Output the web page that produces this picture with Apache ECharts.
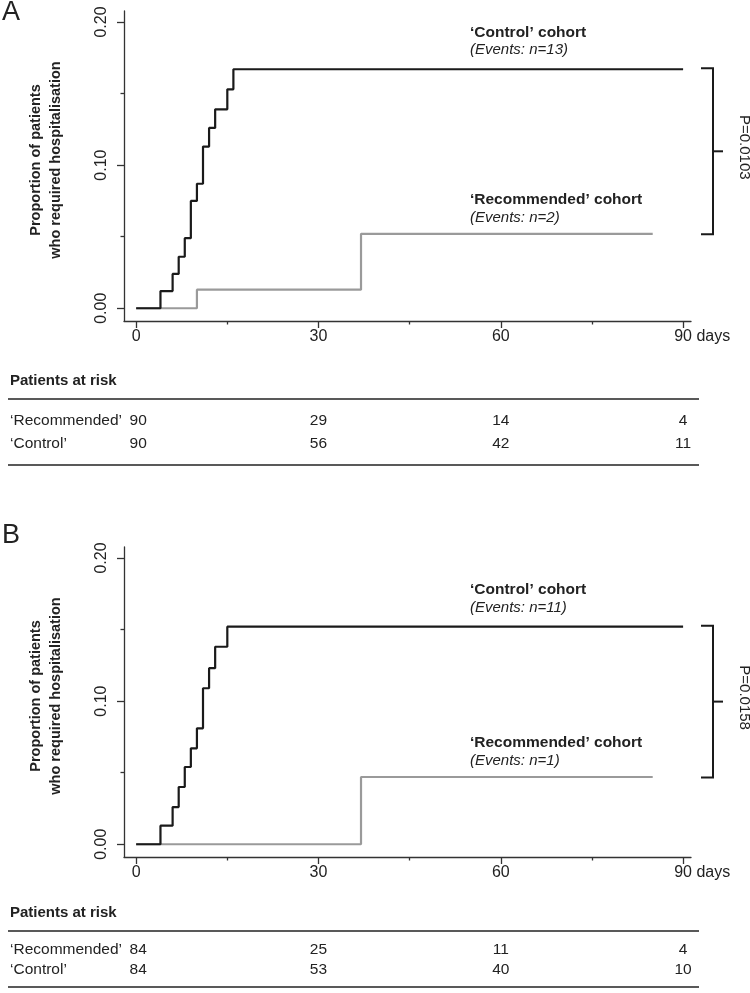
<!DOCTYPE html>
<html>
<head>
<meta charset="utf-8">
<script src="https://cdn.jsdelivr.net/npm/echarts@6/dist/echarts.min.js"></script>
<style>
html,body{margin:0;padding:0;background:#fff;}
#chart{width:750px;height:993px;}
</style>
</head>
<body>
<div id="chart"></div>
<script>
// ---- data ----
const ctrlA_days = [0, 4, 6, 7, 8, 9, 10, 11, 12, 13, 15, 16, 90];
const ctrlA_vals = [0, 0.012, 0.024, 0.036, 0.049, 0.075, 0.087, 0.113, 0.126, 0.139, 0.153, 0.167, 0.167];
const recA_days = [0, 10, 37, 85];
const recA_vals = [0, 0.013, 0.052, 0.052];
const ctrlB_days = [0, 4, 6, 7, 8, 9, 10, 11, 12, 13, 15, 90];
const ctrlB_vals = [0, 0.013, 0.026, 0.040, 0.054, 0.067, 0.081, 0.109, 0.123, 0.138, 0.152, 0.152];
const recB_days = [0, 37, 85];
const recB_vals = [0, 0.047, 0.047];

const riskTimes = [0, 30, 60, 90];
const riskA_rec = [90, 29, 14, 4];
const riskA_ctrl = [90, 56, 42, 11];
const riskB_rec = [84, 25, 11, 4];
const riskB_ctrl = [84, 53, 40, 10];

const xMajorTicks = [0, 30, 60, 90];
const xMinorTicks = [15, 45, 75];
const yMajorTicks = [0, 0.1, 0.2];
const yMinorTicks = [0.05, 0.15];

const panelLabels = ['A', 'B'];
const ctrlEvents = ['(Events: n=13)', '(Events: n=11)'];
const recEvents = ['(Events: n=2)', '(Events: n=1)'];
const pValues = ['P=0.0103', 'P=0.0158'];
const ctrlName = '\u2018Control\u2019 cohort';
const recName = '\u2018Recommended\u2019 cohort';
const rowNames = ['\u2018Recommended\u2019', '\u2018Control\u2019'];
const yTitle = 'Proportion of patients\nwho required hospitalisation';

// ---- layout ----
const FONT = "'Liberation Sans', Arial, Helvetica, sans-serif";
const X_MIN = -2, X_MAX = 91.3, Y_MIN = -0.0089, Y_MAX = 0.2077;
const grids = [
  {left: 124, top: 11, width: 567, height: 310},
  {left: 124, top: 547, width: 567, height: 310}
];
const AXC = '#333';

function zip(a, b) { return a.map((v, i) => [v, b[i]]); }

const xAxes = [], yAxes = [];
grids.forEach((g, gi) => {
  xAxes.push({
    type: 'value', gridIndex: gi, min: X_MIN, max: X_MAX, position: 'bottom',
    axisLine: {show: true, onZero: false, lineStyle: {color: AXC, width: 1.3}},
    axisTick: {show: true, customValues: xMajorTicks, length: 7, lineStyle: {color: AXC, width: 1.3}},
    axisLabel: {
      show: true, customValues: xMajorTicks, margin: 8, color: '#222', fontSize: 16, fontFamily: FONT,
      formatter: v => v === 90 ? '{h|days }90 days' : String(v),
      rich: {h: {color: 'rgba(0,0,0,0)', fontSize: 16, fontFamily: FONT}}
    },
    splitLine: {show: false}
  });
  xAxes.push({
    type: 'value', gridIndex: gi, min: X_MIN, max: X_MAX, position: 'bottom',
    axisLine: {show: false, onZero: false},
    axisTick: {show: true, customValues: xMinorTicks, length: 3.5, lineStyle: {color: AXC, width: 1.3}},
    axisLabel: {show: false}, splitLine: {show: false}
  });
  yAxes.push({
    type: 'value', gridIndex: gi, min: Y_MIN, max: Y_MAX, position: 'left',
    name: yTitle, nameLocation: 'middle', nameGap: 58, nameRotate: 90,
    nameTextStyle: {fontSize: 14.5, fontWeight: 'bold', fontFamily: FONT, color: '#222', lineHeight: 20,
      padding: [0, 0, 0, 12]},
    axisLine: {show: true, onZero: false, lineStyle: {color: AXC, width: 1.3}},
    axisTick: {show: true, customValues: yMajorTicks, length: 7, lineStyle: {color: AXC, width: 1.3}},
    axisLabel: {
      show: true, customValues: yMajorTicks, rotate: 90, margin: 14, color: '#222', fontSize: 16, fontFamily: FONT,
      formatter: v => v.toFixed(2)
    },
    splitLine: {show: false}
  });
  yAxes.push({
    type: 'value', gridIndex: gi, min: Y_MIN, max: Y_MAX, position: 'left',
    axisLine: {show: false, onZero: false},
    axisTick: {show: true, customValues: yMinorTicks, length: 3.5, lineStyle: {color: AXC, width: 1.3}},
    axisLabel: {show: false}, splitLine: {show: false}
  });
});

function lineSeries(days, vals, gi, color, z) {
  return {
    type: 'line', step: 'end', symbol: 'none', xAxisIndex: gi * 2, yAxisIndex: gi * 2,
    data: zip(days, vals), z: z, silent: true, animation: false,
    lineStyle: {color: color, width: 2.2}
  };
}

const chart = echarts.init(document.getElementById('chart'), null, {renderer: 'canvas'});
chart.setOption({
  backgroundColor: '#fff',
  animation: false,
  grid: grids.map(g => Object.assign({containLabel: false}, g)),
  xAxis: xAxes,
  yAxis: yAxes,
  series: [
    lineSeries(recA_days, recA_vals, 0, '#9a9a9a', 2),
    lineSeries(ctrlA_days, ctrlA_vals, 0, '#1a1a1a', 3),
    lineSeries(recB_days, recB_vals, 1, '#9a9a9a', 2),
    lineSeries(ctrlB_days, ctrlB_vals, 1, '#1a1a1a', 3)
  ]
});

// ---- annotations built from the axes' scales ----
const finals = [
  {ctrl: ctrlA_vals[ctrlA_vals.length - 1], rec: recA_vals[recA_vals.length - 1]},
  {ctrl: ctrlB_vals[ctrlB_vals.length - 1], rec: recB_vals[recB_vals.length - 1]}
];
const tables = [
  {rec: riskA_rec, ctrl: riskA_ctrl, title: 381, l1: 399, r1: 421, r2: 444, l2: 465},
  {rec: riskB_rec, ctrl: riskB_ctrl, title: 913, l1: 931, r1: 950, r2: 970, l2: 987}
];
const graphics = [];
function txt(x, y, s, opt) {
  graphics.push({
    type: 'text', x: x, y: y, rotation: opt.rotation || 0, silent: true,
    style: Object.assign({
      text: s, fill: '#222', fontFamily: FONT, fontSize: 15,
      textAlign: 'left', textVerticalAlign: 'middle'
    }, opt.style || {})
  });
}
function line(points, w, color) {
  graphics.push({
    type: 'polyline', silent: true, shape: {points: points},
    style: {stroke: color || '#1a1a1a', lineWidth: w || 2, fill: null}
  });
}

[0, 1].forEach(gi => {
  const finder = {xAxisIndex: gi * 2, yAxisIndex: gi * 2};
  const g = grids[gi];
  // panel label
  txt(2, g.top + (gi === 0 ? 2 : -11), panelLabels[gi], {style: {fontSize: 27, textAlign: 'left'}});
  // curve labels
  const yc = chart.convertToPixel(finder, [0, finals[gi].ctrl])[1];
  const yr = chart.convertToPixel(finder, [0, finals[gi].rec])[1];
  txt(470, yc - 37, ctrlName, {style: {fontWeight: 'bold', fontSize: 15.5}});
  txt(470, yc - 19, ctrlEvents[gi], {style: {fontStyle: 'italic'}});
  txt(470, yr - 34, recName, {style: {fontWeight: 'bold', fontSize: 15.5}});
  txt(470, yr - 16, recEvents[gi], {style: {fontStyle: 'italic'}});
  // bracket
  const bx = 713, top = yc - 1, bot = yr + 0.5, mid = (top + bot) / 2;
  line([[701, top], [bx, top], [bx, bot], [701, bot]], 2);
  line([[bx, mid], [bx + 10, mid]], 2);
  txt(744, mid - 4, pValues[gi], {rotation: -Math.PI / 2, style: {textAlign: 'center', fontSize: 15}});
  // at-risk table
  const t = tables[gi];
  txt(10, t.title, 'Patients at risk', {style: {fontWeight: 'bold', fontSize: 15}});
  line([[8, t.l1], [699, t.l1]], 1.5, '#222');
  line([[8, t.l2], [699, t.l2]], 1.5, '#222');
  txt(10, t.r1, rowNames[0], {style: {fontSize: 15.5}});
  txt(10, t.r2, rowNames[1], {style: {fontSize: 15.5}});
  riskTimes.forEach((d, i) => {
    const px = chart.convertToPixel(finder, [d, 0])[0] + (i === 0 ? 2 : 0);
    txt(px, t.r1, String(t.rec[i]), {style: {fontSize: 15.5, textAlign: 'center'}});
    txt(px, t.r2, String(t.ctrl[i]), {style: {fontSize: 15.5, textAlign: 'center'}});
  });
});
chart.setOption({graphic: graphics});
</script>
</body>
</html>
